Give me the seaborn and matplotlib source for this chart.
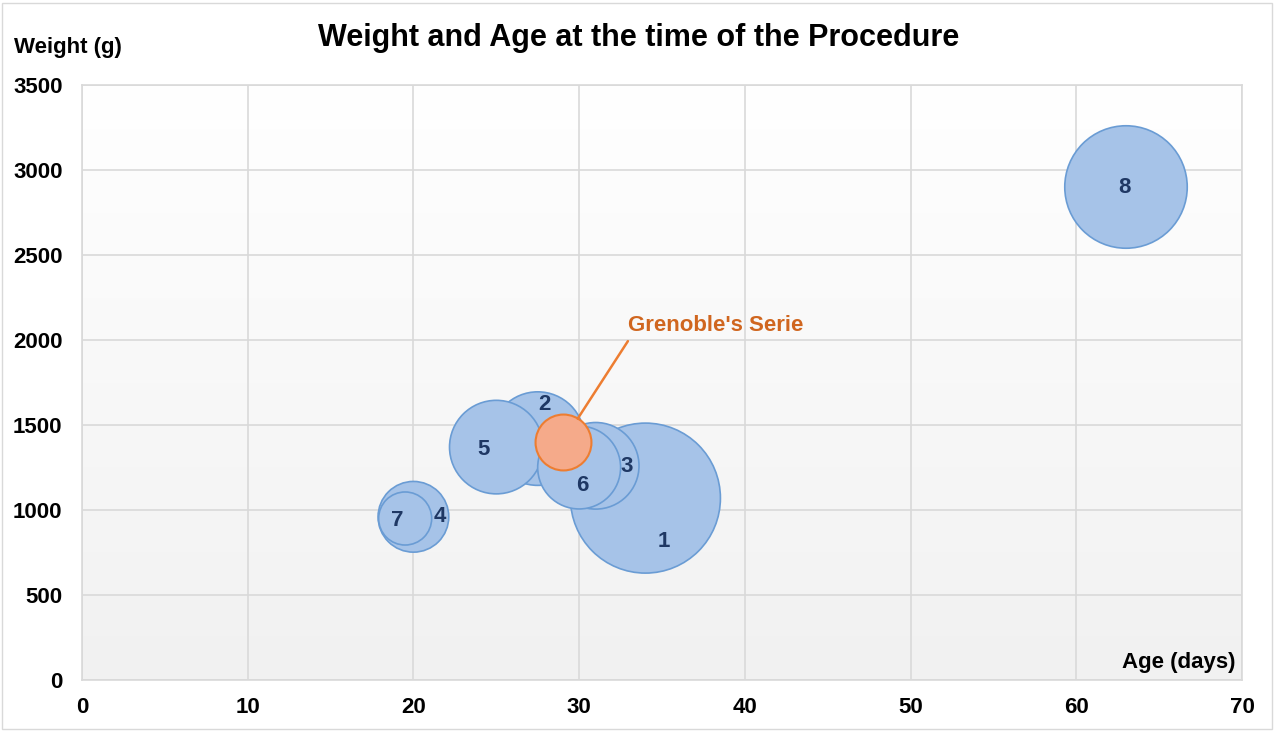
import numpy as np
import pandas as pd
import matplotlib.pyplot as plt
import seaborn as sns
from matplotlib.colors import LinearSegmentedColormap

# 환자별 데이터 : 나이(일), 체중(g), 버블 크기
case_id = ["1", "2", "3", "4", "5", "6", "7", "8"]
age_days = [34, 27.5, 31, 20, 25, 30, 19.5, 63]
weight_g = [1070, 1420, 1260, 960, 1370, 1250, 950, 2900]
bubble_size = [36, 14, 12, 8, 14, 11, 4.5, 24]

# Grenoble 시리즈
grenoble_age = [29]
grenoble_weight = [1400]
grenoble_size = [5]

x_ticks = [0, 10, 20, 30, 40, 50, 60, 70]
y_ticks = [0, 500, 1000, 1500, 2000, 2500, 3000, 3500]

df = pd.DataFrame({"case": case_id, "age": age_days, "weight": weight_g, "n": bubble_size})
gre = pd.DataFrame({"age": grenoble_age, "weight": grenoble_weight, "n": grenoble_size})

sns.set_style("white")
plt.rcParams['font.family'] = ['Liberation Sans', 'DejaVu Sans']
plt.rcParams['text.color'] = 'black'
plt.rcParams['xtick.color'] = 'black'
plt.rcParams['ytick.color'] = 'black'

fig = plt.figure(figsize=(12.75, 7.31), dpi=100)
ax = fig.add_axes([82/1275, 1-680/731, 1160/1275, 595/731])

# 배경 그라데이션
bg = LinearSegmentedColormap.from_list("bg", ["#f1f1f1", "#ffffff"])
ax.imshow(np.linspace(0, 1, 256)[:, None], extent=[0, 70, 0, 3500], origin="lower",
          cmap=bg, aspect="auto", zorder=0.1)

size_norm = (0, 36)
size_rng = (0, 11664)
sns.scatterplot(data=df, x="age", y="weight", size="n", sizes=size_rng, size_norm=size_norm,
                color="#a6c3e8", edgecolor="#6a9cd4", linewidth=1.2, alpha=1, legend=False,
                ax=ax, zorder=3)
sns.scatterplot(data=gre, x="age", y="weight", size="n", sizes=size_rng, size_norm=size_norm,
                color="#f5aa8a", edgecolor="#ed7d31", linewidth=1.5, alpha=1, legend=False,
                ax=ax, zorder=4)

# 버블 번호 (위치 오프셋, 픽셀)
label_offset = [(18, -43), (7, 34), (31, -1), (26, 0), (-13, -2), (3, -18), (-8, -2), (-2, -1)]
for i in range(len(case_id)):
    ax.annotate(case_id[i], (age_days[i], weight_g[i]), xytext=label_offset[i],
                textcoords="offset pixels", ha="center", va="center",
                fontsize=16, fontweight="bold", color="#1f3864", zorder=5)

ax.annotate("Grenoble's Serie", (grenoble_age[0], grenoble_weight[0]), xytext=(32.95, 2088),
            ha="left", va="center", fontsize=16, fontweight="bold", color="#d0661f", zorder=5,
            arrowprops=dict(arrowstyle="-", color="#ed7d31", lw=1.8, shrinkA=2, shrinkB=20,
                            relpos=(0.02, 0.0)))

ax.set_xlim(0, 70)
ax.set_ylim(0, 3500)
ax.set_xticks(x_ticks)
ax.set_yticks(y_ticks)
ax.grid(True, color="#d9d9d9", linewidth=1.2)
ax.set_axisbelow(True)
for s in ax.spines.values():
    s.set_color("#d9d9d9")
    s.set_linewidth(1.2)
ax.tick_params(length=0, labelsize=16)
ax.tick_params(axis="x", pad=12)
ax.tick_params(axis="y", pad=14)
for t in ax.get_xticklabels() + ax.get_yticklabels():
    t.set_fontweight("bold")
ax.set_xlabel("")
ax.set_ylabel("")

ax.text(0.994, 0.03, "Age (days)", transform=ax.transAxes, ha="right", va="center",
        fontsize=16, fontweight="bold")
fig.text(14/1275, 1-47/731, "Weight (g)", ha="left", va="center", fontsize=16, fontweight="bold")
fig.text(639/1275, 1-38/731, "Weight and Age at the time of the Procedure", ha="center",
         va="center", fontsize=22, fontweight="bold")

# 차트 테두리
fig.patches.append(plt.Rectangle((2/1275, 2/731), 1270/1275, 726/731, transform=fig.transFigure,
                                 fill=False, edgecolor="#d9d9d9", linewidth=1))

fig.savefig("out.png", dpi=100)
